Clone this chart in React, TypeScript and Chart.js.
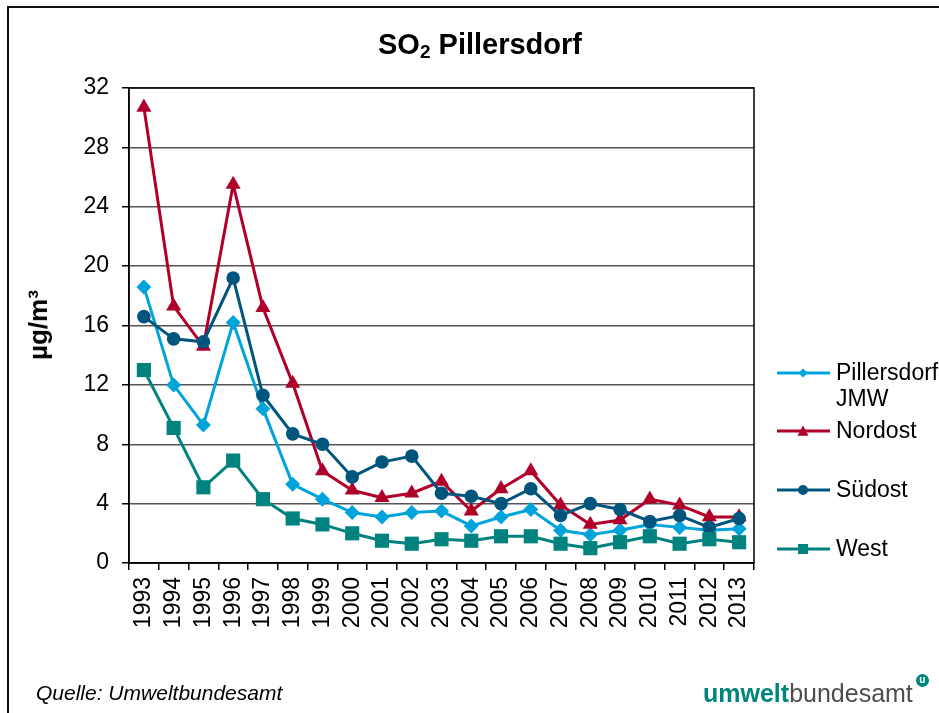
import React, { useEffect, useRef } from "react";
import { Chart, registerables } from "chart.js";

Chart.register(...registerables);

const years = ["1993","1994","1995","1996","1997","1998","1999","2000","2001","2002","2003","2004","2005","2006","2007","2008","2009","2010","2011","2012","2013"];
const pillersdorf = [18.6,12.0,9.3,16.2,10.4,5.3,4.3,3.4,3.1,3.4,3.5,2.5,3.1,3.6,2.2,1.9,2.2,2.6,2.4,2.2,2.3];
const nordost = [30.7,17.3,14.6,25.5,17.2,12.1,6.2,4.9,4.4,4.7,5.5,3.5,5.0,6.2,3.9,2.6,2.9,4.3,3.9,3.1,3.1];
const suedost = [16.6,15.1,14.9,19.2,11.3,8.7,8.0,5.8,6.8,7.2,4.7,4.5,4.0,5.0,3.2,4.0,3.6,2.8,3.2,2.4,3.0];
const west = [13.0,9.1,5.1,6.9,4.3,3.0,2.6,2.0,1.5,1.3,1.6,1.5,1.8,1.8,1.3,1.0,1.4,1.8,1.3,1.6,1.4];
const seriesNames = ["Pillersdorf JMW", "Nordost", "Südost", "West"];
const legendLines = [["Pillersdorf", "JMW"], ["Nordost"], ["Südost"], ["West"]];

const FONT = "'Liberation Sans', Arial, sans-serif";
const C_LBLUE = "#00A3DA";
const C_RED = "#B0002A";
const C_DBLUE = "#00557D";
const C_TEAL = "#00827E";

function drawMarker(ctx: CanvasRenderingContext2D, kind: string, x: number, y: number, r: number, color: string) {
  ctx.save();
  ctx.fillStyle = color;
  ctx.beginPath();
  if (kind === "diamond") {
    ctx.moveTo(x, y - r); ctx.lineTo(x + r, y); ctx.lineTo(x, y + r); ctx.lineTo(x - r, y);
  } else if (kind === "triangle") {
    ctx.moveTo(x, y - r); ctx.lineTo(x + r, y + r * 0.85); ctx.lineTo(x - r, y + r * 0.85);
  } else if (kind === "circle") {
    ctx.arc(x, y, r, 0, Math.PI * 2);
  } else {
    ctx.rect(x - r, y - r, 2 * r, 2 * r);
  }
  ctx.closePath();
  ctx.fill();
  ctx.restore();
}

const framePlugin = {
  id: "frameAndLegend",
  beforeDatasetsDraw(chart: any) {
    const { ctx, chartArea } = chart;
    ctx.save();
    ctx.strokeStyle = "#000";
    ctx.lineWidth = 1.5;
    ctx.strokeRect(chartArea.left, chartArea.top, chartArea.right - chartArea.left, chartArea.bottom - chartArea.top);
    ctx.restore();
  },
  afterDraw(chart: any) {
    const ctx: CanvasRenderingContext2D = chart.ctx;
    const items = [
      { y: 373, color: C_LBLUE, kind: "diamond", r: 4.5 },
      { y: 431, color: C_RED, kind: "triangle", r: 5.5 },
      { y: 490, color: C_DBLUE, kind: "circle", r: 5 },
      { y: 549, color: C_TEAL, kind: "square", r: 5 },
    ];
    ctx.save();
    items.forEach((it, i) => {
      ctx.strokeStyle = it.color;
      ctx.lineWidth = 3;
      ctx.beginPath();
      ctx.moveTo(777, it.y);
      ctx.lineTo(830, it.y);
      ctx.stroke();
      drawMarker(ctx, it.kind, 803, it.y, it.r, it.color);
      ctx.fillStyle = "#000";
      ctx.font = `23px ${FONT}`;
      ctx.textAlign = "left";
      ctx.textBaseline = "middle";
      legendLines[i].forEach((t, j) => {
        ctx.fillText(t, 836, it.y + 1 + j * 26);
      });
    });
    ctx.restore();
  },
};

export default function App() {
  const ref = useRef<HTMLCanvasElement | null>(null);

  useEffect(() => {
    if (!ref.current) return;
    const mk = (label: string, data: number[], color: string, style: string, radius: number, order: number) => ({
      label,
      data,
      borderColor: color,
      backgroundColor: color,
      pointBackgroundColor: color,
      pointBorderColor: color,
      pointBorderWidth: 0,
      pointStyle: style,
      pointRadius: radius,
      pointHoverRadius: radius,
      borderWidth: 3,
      tension: 0,
      fill: false,
      order,
      clip: false as any,
    });
    const chart = new Chart(ref.current, {
      type: "line",
      data: {
        labels: years,
        datasets: [
          mk(seriesNames[0], pillersdorf, C_LBLUE, "rectRot", 7.5, 4),
          mk(seriesNames[1], nordost, C_RED, "triangle", 8.7, 3),
          mk(seriesNames[2], suedost, C_DBLUE, "circle", 6.8, 2),
          mk(seriesNames[3], west, C_TEAL, "rect", 10, 1),
        ],
      },
      options: {
        responsive: false,
        animation: false,
        devicePixelRatio: 1,
        layout: { padding: { left: 59, top: 88, right: 185, bottom: 70 } },
        plugins: {
          legend: { display: false },
          title: { display: false },
          tooltip: { enabled: false },
        },
        scales: {
          x: {
            type: "category",
            offset: true,
            grid: { offset: true, drawOnChartArea: false, tickLength: 7, color: "#000", lineWidth: 1.5 },
            border: { display: true, color: "#000", width: 1.5 },
            ticks: {
              autoSkip: false,
              minRotation: 90,
              maxRotation: 90,
              padding: 7,
              color: "#000",
              font: { family: FONT, size: 23 },
            },
            afterFit: (s: any) => { s.height = 80; },
          },
          y: {
            min: 0,
            max: 32,
            ticks: {
              stepSize: 4,
              padding: 13,
              color: "#000",
              font: { family: FONT, size: 23 },
            },
            grid: { color: "#555", lineWidth: 1.5, tickLength: 7, tickColor: "#000" },
            border: { display: true, color: "#000", width: 1.5 },
            afterFit: (s: any) => { s.width = 70; },
          },
        },
      },
      plugins: [framePlugin],
    });
    return () => chart.destroy();
  }, []);

  return (
    <div style={{ position: "fixed", left: 0, top: 0, width: 939, height: 713, overflow: "hidden", background: "#fff", fontFamily: FONT }}>
      <div style={{ position: "absolute", left: 7, top: 6, width: 960, height: 760, borderLeft: "2px solid #111", borderTop: "2px solid #111" }} />
      <canvas ref={ref} width={939} height={713} style={{ position: "absolute", left: 0, top: 0, width: 939, height: 713 }} />
      <div style={{ position: "absolute", left: 0, top: 30, width: 960, textAlign: "center", fontSize: 29, lineHeight: "29px", fontWeight: "bold", color: "#000", whiteSpace: "nowrap" }}>
        SO<span style={{ fontSize: 19, position: "relative", top: 4 }}>2</span> Pillersdorf
      </div>
      <div style={{ position: "absolute", left: 38, top: 325, transform: "translate(-50%, -50%) rotate(-90deg)", fontSize: 26, fontWeight: "bold", whiteSpace: "nowrap", color: "#000", lineHeight: "26px" }}>
        µg/m³
      </div>
      <div style={{ position: "absolute", left: 36, top: 682, fontSize: 21, lineHeight: "21px", fontStyle: "italic", color: "#000", whiteSpace: "nowrap" }}>
        Quelle: Umweltbundesamt
      </div>
      <div style={{ position: "absolute", left: 703, top: 681, fontSize: 25, lineHeight: "25px", whiteSpace: "nowrap" }}>
        <span style={{ color: "#00857B", fontWeight: "bold" }}>umwelt</span>
        <span style={{ color: "#4d4d4d" }}>bundesamt</span>
        <span style={{ display: "inline-block", position: "relative", top: -7, marginLeft: 3, width: 13, height: 13, borderRadius: "50%", background: "#00857B", color: "#fff", fontSize: 10, lineHeight: "12px", textAlign: "center", fontWeight: "bold", verticalAlign: "top" }}>u</span>
      </div>
    </div>
  );
}
